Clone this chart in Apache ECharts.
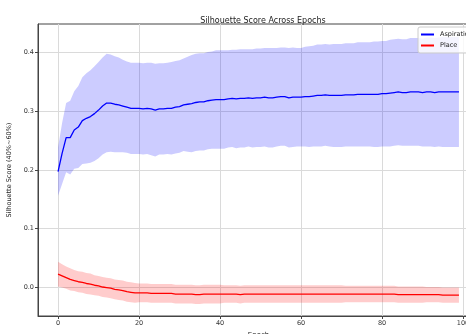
<!DOCTYPE html>
<html>
<head>
<meta charset="utf-8">
<script src="https://cdn.jsdelivr.net/npm/echarts@6/dist/echarts.min.js"></script>
<style>
html,body{margin:0;padding:0;background:#fff;}
#chart{width:466px;height:334px;}
</style>
</head>
<body>
<div id="chart"></div>
<script>
var epochs = Array.from({length: 100}, function (_, i) { return i; });
var xTicks = [0, 20, 40, 60, 80, 100];
var yTicks = [0, 0.1, 0.2, 0.3, 0.4];

var aspirationMean = [
0.197,0.228,0.255,0.255,0.268,0.273,0.284,0.288,0.291,0.296,
0.302,0.309,0.314,0.314,0.312,0.311,0.309,0.307,0.305,0.305,
0.305,0.304,0.305,0.304,0.302,0.304,0.304,0.305,0.305,0.307,
0.308,0.311,0.312,0.313,0.315,0.316,0.316,0.318,0.319,0.320,
0.320,0.320,0.321,0.322,0.321,0.322,0.322,0.323,0.322,0.323,
0.323,0.324,0.323,0.323,0.324,0.325,0.325,0.323,0.324,0.324,
0.324,0.325,0.325,0.326,0.327,0.327,0.328,0.327,0.327,0.327,
0.327,0.328,0.328,0.328,0.329,0.329,0.329,0.329,0.329,0.329,
0.330,0.330,0.331,0.332,0.333,0.332,0.332,0.333,0.333,0.333,
0.332,0.333,0.333,0.332,0.333,0.333,0.333,0.333,0.333,0.333];

var aspirationStd = [
0.041,0.052,0.059,0.063,0.066,0.070,0.074,0.077,0.079,0.081,
0.082,0.083,0.084,0.083,0.082,0.081,0.079,0.078,0.078,0.078,
0.078,0.078,0.078,0.079,0.079,0.078,0.078,0.078,0.079,0.079,
0.079,0.079,0.081,0.083,0.083,0.083,0.083,0.083,0.083,0.084,
0.084,0.084,0.083,0.083,0.084,0.084,0.084,0.083,0.084,0.084,
0.084,0.084,0.085,0.085,0.084,0.084,0.084,0.085,0.085,0.084,
0.084,0.085,0.086,0.086,0.087,0.087,0.087,0.087,0.088,0.088,
0.088,0.088,0.088,0.088,0.089,0.089,0.089,0.089,0.090,0.090,
0.090,0.090,0.091,0.091,0.091,0.091,0.091,0.092,0.092,0.092,
0.092,0.093,0.093,0.093,0.093,0.094,0.094,0.094,0.094,0.094];

var placeMean = [
0.022,0.019,0.016,0.013,0.011,0.009,0.008,0.006,0.005,0.003,
0.002,0.000,-0.001,-0.002,-0.004,-0.005,-0.006,-0.008,-0.009,-0.010,
-0.010,-0.010,-0.010,-0.011,-0.011,-0.011,-0.011,-0.011,-0.011,-0.012,
-0.012,-0.012,-0.012,-0.012,-0.013,-0.013,-0.012,-0.012,-0.012,-0.012,
-0.012,-0.012,-0.012,-0.012,-0.012,-0.013,-0.012,-0.012,-0.012,-0.012,
-0.012,-0.012,-0.012,-0.012,-0.012,-0.012,-0.012,-0.012,-0.012,-0.012,
-0.012,-0.012,-0.012,-0.012,-0.012,-0.012,-0.012,-0.012,-0.012,-0.012,
-0.012,-0.012,-0.012,-0.012,-0.012,-0.012,-0.012,-0.012,-0.012,-0.012,
-0.012,-0.012,-0.012,-0.012,-0.013,-0.013,-0.013,-0.013,-0.013,-0.013,
-0.013,-0.013,-0.013,-0.013,-0.013,-0.014,-0.014,-0.014,-0.014,-0.014];

var placeStd = [
0.021,0.020,0.019,0.019,0.018,0.018,0.018,0.018,0.018,0.017,
0.017,0.017,0.017,0.017,0.017,0.017,0.017,0.017,0.017,0.017,
0.016,0.016,0.016,0.016,0.016,0.016,0.016,0.016,0.016,0.016,
0.016,0.016,0.016,0.016,0.016,0.016,0.016,0.016,0.016,0.016,
0.016,0.015,0.015,0.015,0.015,0.015,0.015,0.015,0.015,0.015,
0.015,0.015,0.015,0.015,0.015,0.015,0.015,0.015,0.015,0.015,
0.015,0.015,0.015,0.015,0.015,0.015,0.015,0.015,0.015,0.015,
0.015,0.014,0.014,0.014,0.014,0.014,0.014,0.014,0.014,0.014,
0.014,0.014,0.014,0.014,0.014,0.014,0.014,0.014,0.014,0.014,
0.014,0.013,0.013,0.013,0.013,0.013,0.013,0.013,0.013,0.013];

function pairs(vals) { return epochs.map(function (e, i) { return [e, vals[i]]; }); }
function bandData(m, s) { return epochs.map(function (e, i) { return [e, m[i] - s[i], m[i] + s[i]]; }); }

function bandSeries(name, m, s, color) {
  var data = bandData(m, s);
  return {
    name: name, type: 'custom', silent: true, clip: true, z: 1,
    data: data,
    encode: {x: 0, y: [1, 2]},
    renderItem: function (params, api) {
      if (params.dataIndex !== 0) return null;
      var pts = [];
      for (var i = 0; i < data.length; i++) pts.push(api.coord([data[i][0], data[i][2]]));
      for (var j = data.length - 1; j >= 0; j--) pts.push(api.coord([data[j][0], data[j][1]]));
      return {type: 'polygon', shape: {points: pts}, style: {fill: color, stroke: null}};
    }
  };
}

var FONT = 'DejaVu Sans';
var chart = echarts.init(document.getElementById('chart'), null, {renderer: 'canvas'});
chart.setOption({
  animation: false,
  backgroundColor: '#ffffff',
  textStyle: {fontFamily: FONT},
  title: {
    text: 'Silhouette Score Across Epochs',
    left: 258, top: 12, textAlign: 'center',
    textStyle: {fontFamily: FONT, fontSize: 8, fontWeight: 'normal', color: '#222'}
  },
  grid: {left: 38, top: 24, width: 441, height: 292, show: true, borderColor: '#444', borderWidth: 1,
    backgroundColor: 'transparent', containLabel: false, outerBoundsMode: 'none'},
  legend: {
    data: ['Aspiration', 'Place'],
    orient: 'vertical', left: 418, top: 27,
    itemWidth: 13, itemHeight: 2, itemGap: 4, icon: 'rect',
    padding: [4, 5, 4, 3],
    borderColor: '#cccccc', borderWidth: 1, borderRadius: 2,
    backgroundColor: 'rgba(255,255,255,0.8)',
    textStyle: {fontFamily: FONT, fontSize: 6.5, color: '#222', padding: [0, 0, 0, 1]}
  },
  xAxis: {
    type: 'value', min: -4.95, max: 103.95,
    name: 'Epoch', nameLocation: 'middle', nameGap: 13,
    nameTextStyle: {fontFamily: FONT, fontSize: 7, color: '#222'},
    axisLine: {show: true, onZero: false, lineStyle: {color: '#444', width: 1}},
    axisTick: {show: true, length: 3, customValues: xTicks, lineStyle: {color: '#444'}},
    axisLabel: {customValues: xTicks, fontFamily: FONT, fontSize: 6.5, color: '#333', margin: 4},
    splitLine: {show: true, lineStyle: {color: '#dadada', width: 1}}
  },
  yAxis: {
    type: 'value', min: -0.0495, max: 0.449,
    name: 'Silhouette Score (40%~60%)', nameLocation: 'middle', nameGap: 24,
    nameTextStyle: {fontFamily: FONT, fontSize: 6.5, color: '#222'},
    axisLine: {show: true, onZero: false, lineStyle: {color: '#444', width: 1}},
    axisTick: {show: true, length: 3, customValues: yTicks, lineStyle: {color: '#444'}},
    axisLabel: {customValues: yTicks, fontFamily: FONT, fontSize: 6.5, color: '#333', margin: 4,
      formatter: function (v) { return v.toFixed(1); }},
    splitLine: {show: true, lineStyle: {color: '#dadada', width: 1}}
  },
  series: [
    bandSeries('aspBand', aspirationMean, aspirationStd, 'rgba(0,0,255,0.2)'),
    bandSeries('plBand', placeMean, placeStd, 'rgba(255,0,0,0.2)'),
    {name: 'Aspiration', type: 'line', symbol: 'none', color: '#0000ff', z: 3,
      lineStyle: {color: '#0000ff', width: 1.3}, data: pairs(aspirationMean)},
    {name: 'Place', type: 'line', symbol: 'none', color: '#ff0000', z: 3,
      lineStyle: {color: '#ff0000', width: 1.3}, data: pairs(placeMean)}
  ]
});
</script>
</body>
</html>
